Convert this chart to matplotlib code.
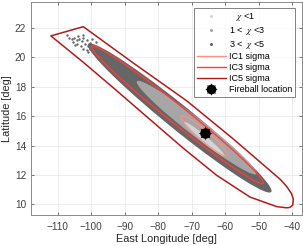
import matplotlib
matplotlib.use('Agg')
import matplotlib.pyplot as plt
from matplotlib.patches import Ellipse, Polygon
from matplotlib.lines import Line2D
from matplotlib.legend_handler import HandlerTuple

plt.rcParams['font.family'] = ['Liberation Sans', 'DejaVu Sans']
plt.rcParams['mathtext.fontset'] = 'stix'

# chi regions, as ellipses (centre lon/lat, length, width, tilt)
chi_labels = ['   $\\chi$ <1', '1 <  $\\chi$ <3', '3 <  $\\chi$ <5']
chi_lon0 = [-66.3, -68.5, -73.6]
chi_lat0 = [14.45, 15.22, 15.88]
chi_len = [12.4, 36.3, 55.7]
chi_wid = [0.56, 1.42, 2.1]
chi_tilt = [-10.6, -9.86, -10.28]

# loose 3<chi<5 samples at the north-west end
loose_lon = [-105.83, -105.04, -104.34, -105.33, -103.54, -102.84, -104.14, -102.35, -101.85, -103.14,
             -101.35, -100.86, -102.35, -100.36, -100.36, -101.35, -99.36, -103.84, -102.55, -104.84,
             -106.6, -107.2, -98.6, -99.8, -101.0, -98.2]
loose_lat = [21.23, 21.32, 21.16, 21.05, 21.28, 21.10, 20.94, 21.32, 20.94, 20.78,
             21.16, 20.78, 20.60, 21.01, 20.60, 20.48, 20.71, 21.46, 21.50, 20.87,
             21.35, 21.55, 21.05, 21.25, 20.35, 20.55]

# IC1 / IC3 contours as ellipses
ic_labels = ['IC1 sigma', 'IC3 sigma', 'IC5 sigma']
ic_lon0 = [-66.25, -74.25]
ic_lat0 = [14.66, 16.09]
ic_len = [14.16, 52.02]
ic_wid = [0.88, 1.52]
ic_tilt = [-10.6, -10.23]

# IC5 contour outline (cut at the north-west end)
ic5_lon = [-111.99, -102.34, -87.43, -71.52, -57.60, -47.66, -43.5, -41.69, -40.3, -39.70, -39.90, -40.7, -41.69,
           -44.67, -52.63, -62.57, -72.51, -82.46, -92.40, -102.34]
ic5_lat = [21.46, 22.09, 19.62, 17.05, 14.45, 12.5, 11.68, 11.22, 10.75, 10.35, 9.95, 9.80, 9.77,
           9.85, 10.5, 11.98, 13.82, 15.78, 17.74, 19.67]

fireball_lon = -66.05
fireball_lat = 14.89

xticks = [-110, -100, -90, -80, -70, -60, -50, -40]
yticks = [10, 12, 14, 16, 18, 20, 22]

chi_colors = ['#d4d4d4', '#a6a6a6', '#666666']
ic_colors = ['#ff8f80', '#ff3b3b', '#b31b1b']

fig = plt.figure(figsize=(3.03, 2.46), dpi=100)
ax = fig.add_axes([0.102, 0.126, 0.895, 0.866])

# gray sample regions, outer first
for i in [2, 1, 0]:
    ax.add_patch(Ellipse((chi_lon0[i], chi_lat0[i]), chi_len[i], chi_wid[i], angle=chi_tilt[i],
                         facecolor=chi_colors[i], edgecolor='none', zorder=2))
ax.scatter(loose_lon, loose_lat, s=3, color=chi_colors[2], linewidths=0, zorder=2)

# confidence contours
for i in range(2):
    ax.add_patch(Ellipse((ic_lon0[i], ic_lat0[i]), ic_len[i], ic_wid[i], angle=ic_tilt[i],
                         facecolor='none', edgecolor=ic_colors[i], lw=1.0 if i else 0.8, zorder=3))
ax.add_patch(Polygon(list(zip(ic5_lon, ic5_lat)), closed=True, facecolor='none',
                     edgecolor=ic_colors[2], lw=1.1, joinstyle='round', zorder=3))

ax.plot(fireball_lon, fireball_lat, 'o', color='black', ms=6.5, zorder=5)
ax.plot(fireball_lon, fireball_lat, marker=(8, 1, 0), color='black', ms=10, mew=0, zorder=5)

ax.set_xlim(-117.95, -37.1)
ax.set_ylim(9.28, 23.77)
ax.set_xticks(xticks)
ax.set_yticks(yticks)
ax.grid(True, color='#e6e6e6', lw=0.5)
ax.set_axisbelow(True)
ax.tick_params(direction='in', top=True, right=True, length=2.5, width=0.5,
               colors='#404040', labelsize=7.2)
ax.tick_params(axis='x', pad=5)
ax.tick_params(axis='y', pad=3.5)
for s in ax.spines.values():
    s.set_color('#8a8a8a')
    s.set_linewidth(0.7)

ax.set_xlabel('East Longitude [deg]', fontsize=7.9, color='#262626', labelpad=1.5)
ax.set_ylabel('Latitude [deg]', fontsize=7.9, color='#262626', labelpad=2)

handles = [Line2D([], [], ls='none', marker='o', ms=1.2, color=c) for c in chi_colors]
handles += [Line2D([], [], color=c, lw=1.0) for c in ic_colors]
handles.append((Line2D([], [], ls='none', marker='o', ms=6, color='black'),
                Line2D([], [], ls='none', marker=(8, 1, 0), ms=9, mew=0, color='black')))
labels = chi_labels + ic_labels + ['Fireball location']
leg = ax.legend(handles, labels, loc='upper right', bbox_to_anchor=(0.974, 0.970),
                borderaxespad=0, fontsize=6.5, frameon=True, fancybox=False,
                edgecolor='#262626', handlelength=3.3, handletextpad=0.3,
                labelspacing=0.2, borderpad=0.3, handler_map={tuple: HandlerTuple(ndivide=1)})
leg.get_frame().set_linewidth(0.5)
leg.set_zorder(6)

fig.savefig('out.png', dpi=100)
